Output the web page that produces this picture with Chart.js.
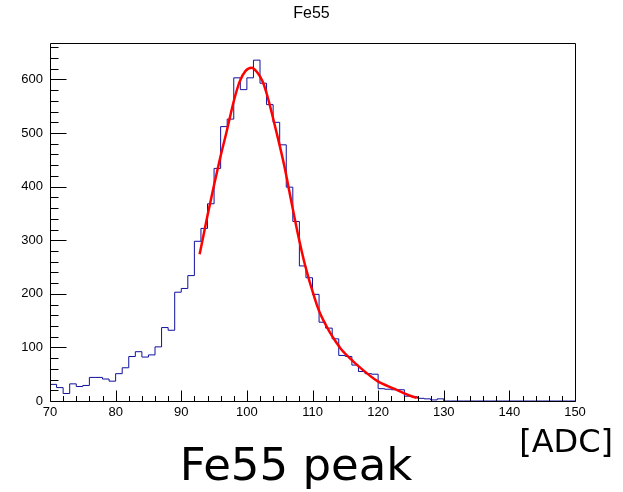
<!DOCTYPE html>
<html><head><meta charset="utf-8">
<script src="https://cdn.jsdelivr.net/npm/chart.js@4.4.1/dist/chart.umd.min.js"></script>
<style>html,body{margin:0;padding:0;background:#fff;}#wrap{width:623px;height:492px;}</style>
</head><body><div id="wrap"><canvas id="c" width="623" height="492"></canvas></div>
<script>
const chartTitle = 'Fe55';
const xAxisTitle = '[ADC]';
const caption = 'Fe55 peak';

// histogram bin edges (70..150, width 1) and counts per bin
const binEdges = [70,71,72,73,74,75,76,77,78,79,80,81,82,83,84,85,86,87,88,89,90,
  91,92,93,94,95,96,97,98,99,100,101,102,103,104,105,106,107,108,109,110,
  111,112,113,114,115,116,117,118,119,120,121,122,123,124,125,126,127,128,129,130,
  131,132,133,134,135,136,137,138,139,140,141,142,143,144,145,146,147,148,149,150];
const counts = [31,25,14,32,27,29,44,44,41,37,
  51,62,83,92,82,86,101,137,132,203,
  210,234,298,322,368,434,512,526,603,581,
  603,636,593,553,520,478,399,335,252,230,
  199,147,136,116,85,83,67,55,51,50,
  23,22,21,21,9,8,5,4,2,4,
  0,0,0,0,0,0,0,0,0,0,
  0,0,0,0,0,0,0,0,0,0];

// fitted curve, points
const fitX = [92.8,93.5,94.0,94.6,95.0,95.9,96.9,98.1,98.9,99.8,100.7,101.6,102.4,103.1,104.5,105.7,106.7,107.7,108.9,110.4,111.1,112.7,113.7,114.4,116.2,117.0,119.9,122.6,123.8,125.3,125.9];
const fitY = [274,316,346,380,403,452,502,564,596,616,622,613,596,570,502,439,377,316,252,189,165,127,108,96,74,65,37,22,15,8,6];

const xTickValues = [70,80,90,100,110,120,130,140,150];
const yTickValues = [0,100,200,300,400,500,600];

const histPoints = binEdges.map((e, i) => ({x: e, y: counts[Math.min(i, counts.length - 1)]}));
const fitPoints = fitX.map((x, i) => ({x: x, y: fitY[i]}));

const rootFrame = {
  id: 'rootFrame',
  afterDatasetsDraw(chart) {
    const {ctx, chartArea: a, scales: {x, y}} = chart;
    ctx.save();
    ctx.strokeStyle = '#000';
    ctx.lineWidth = 1;
    const L = Math.round(a.left) + 0.5, R = Math.round(a.right) + 0.5;
    const T = Math.round(a.top) + 0.5, B = Math.round(a.bottom) + 0.5;
    ctx.beginPath();
    ctx.rect(L, T, R - L, B - T);
    ctx.stroke();
    ctx.beginPath();
    for (let v = x.min; v <= x.max + 1e-9; v += 2) {
      const px = Math.round(x.getPixelForValue(v)) + 0.5;
      const len = (Math.abs(v % 10) < 1e-9) ? 11 : 5.5;
      ctx.moveTo(px, B); ctx.lineTo(px, B - len);
    }
    for (let v = y.min; v <= y.max + 1e-9; v += 20) {
      const py = Math.round(y.getPixelForValue(v)) + 0.5;
      const len = (Math.abs(v % 100) < 1e-9) ? 16 : 8;
      ctx.moveTo(L, py); ctx.lineTo(L + len, py);
    }
    ctx.stroke();
    ctx.restore();
  },
  afterDraw(chart) {
    const ctx = chart.ctx;
    ctx.save();
    ctx.fillStyle = '#000';
    ctx.textBaseline = 'alphabetic';
    ctx.textAlign = 'right';
    ctx.font = '32px "DejaVu Sans"';
    ctx.fillText(xAxisTitle, 613, 452);
    ctx.textAlign = 'center';
    ctx.font = '45px "DejaVu Sans"';
    ctx.fillText(caption, 296, 480);
    ctx.restore();
  }
};

new Chart(document.getElementById('c'), {
  type: 'line',
  data: {
    datasets: [
      {label: 'fit', data: fitPoints, borderColor: '#ff0000', borderWidth: 2.5,
       pointRadius: 0, fill: false, cubicInterpolationMode: 'monotone'},
      {label: 'hist', data: histPoints, borderColor: '#10109e', borderWidth: 1,
       pointRadius: 0, fill: false, stepped: 'before'}
    ]
  },
  options: {
    responsive: false,
    animation: false,
    devicePixelRatio: 1,
    layout: {padding: {top: 0, left: 0, right: 0, bottom: 61}},
    plugins: {
      legend: {display: false},
      tooltip: {enabled: false},
      title: {display: true, text: chartTitle, color: '#000',
        font: {family: '"Liberation Sans", Arial, sans-serif', size: 16, weight: 'normal'},
        padding: {top: 4.4, bottom: 19.4}}
    },
    scales: {
      x: {type: 'linear', min: 70, max: 150,
        afterBuildTicks: s => { s.ticks = xTickValues.map(v => ({value: v})); },
        afterFit: s => { s.height = 30; },
        grid: {display: false, drawTicks: false},
        border: {display: false},
        ticks: {color: '#000', padding: 4, maxRotation: 0, autoSkip: false,
          font: {family: '"Liberation Sans", Arial, sans-serif', size: 13}}},
      y: {type: 'linear', min: 0, max: 668,
        afterBuildTicks: s => { s.ticks = yTickValues.map(v => ({value: v})); },
        afterFit: s => { s.width = 50; },
        grid: {display: false, drawTicks: false},
        border: {display: false},
        ticks: {color: '#000', padding: 7,
          font: {family: '"Liberation Sans", Arial, sans-serif', size: 13}}},
      yRight: {type: 'linear', position: 'right', display: true,
        afterFit: s => { s.width = 48; },
        grid: {display: false, drawTicks: false},
        border: {display: false},
        ticks: {display: false}}
    }
  },
  plugins: [rootFrame]
});
</script>
</body></html>
